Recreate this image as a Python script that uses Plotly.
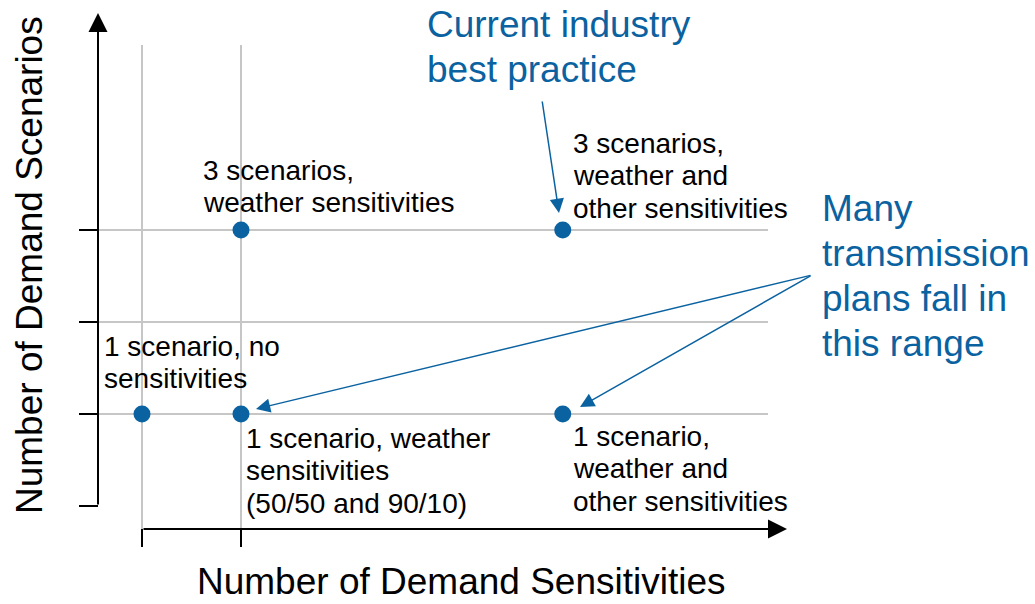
import plotly.graph_objects as go

# ---------------- data ----------------
sens_ticks = [1, 2]            # demand-sensitivity levels marked on the x axis
scen_ticks = [0, 1, 2, 3]      # demand-scenario levels marked on the y axis
scen_grid = [1, 2, 3]
point_sens = [1, 2, 5.25, 2, 5.25]
point_scen = [1, 1, 1, 3, 3]

label_lines = [
    ["1 scenario, no", "sensitivities"],
    ["1 scenario, weather", "sensitivities", "(50/50 and 90/10)"],
    ["1 scenario,", "weather and", "other sensitivities"],
    ["3 scenarios,", "weather sensitivities"],
    ["3 scenarios,", "weather and", "other sensitivities"],
]
callout_best = ["Current industry", "best practice"]
callout_many = ["Many", "transmission", "plans fall in", "this range"]
x_title = "Number of Demand Sensitivities"
y_title = "Number of Demand Scenarios"

# ---------------- layout helpers ----------------
W, H = 1035, 604
BLUE = "#0b62a0"
GRID = "#c6c6c6"
FONT = "Liberation Sans, Arial, sans-serif"


def px2x(p):
    return 1 + (p - 142) / 99.0


def py2y(q):
    return (506 - q) / 92.0


AXIS_X = px2x(98)       # position of the vertical axis
AXIS_Y = py2y(529)      # position of the horizontal axis

fig = go.Figure()

shapes = []
for y in scen_grid:
    shapes.append(dict(type="line", x0=AXIS_X, x1=px2x(768), y0=y, y1=y,
                       line=dict(color=GRID, width=2), layer="below"))
for x in sens_ticks:
    shapes.append(dict(type="line", x0=x, x1=x, y0=AXIS_Y, y1=py2y(45),
                       line=dict(color=GRID, width=2), layer="below"))
    shapes.append(dict(type="line", x0=x, x1=x, y0=AXIS_Y, y1=py2y(547),
                       line=dict(color="black", width=2)))
for y in scen_ticks:
    shapes.append(dict(type="line", x0=px2x(79), x1=AXIS_X, y0=y, y1=y,
                       line=dict(color="black", width=2)))

fig.add_trace(go.Scatter(x=point_sens, y=point_scen, mode="markers",
                         marker=dict(size=17, color=BLUE), hoverinfo="skip",
                         showlegend=False))

ann = []
# axis arrows
ann.append(dict(x=AXIS_X, y=py2y(13), ax=AXIS_X, ay=scen_ticks[0], xref="x", yref="y",
                axref="x", ayref="y", text="", showarrow=True, arrowhead=2,
                arrowsize=1.9, arrowwidth=2, arrowcolor="black"))
ann.append(dict(x=px2x(787), y=AXIS_Y, ax=sens_ticks[0], ay=AXIS_Y, xref="x", yref="y",
                axref="x", ayref="y", text="", showarrow=True, arrowhead=2,
                arrowsize=1.9, arrowwidth=2, arrowcolor="black"))


def add_lines(lines, left_px, first_px, step, size, color):
    for i, t in enumerate(lines):
        ann.append(dict(x=px2x(left_px), y=py2y(first_px + i * step), xref="x", yref="y",
                        text=t, showarrow=False, xanchor="left", yanchor="middle",
                        font=dict(family=FONT, size=size, color=color)))


label_pos = [(102, 346), (244, 438), (571, 436), (201, 170), (571, 143)]
for lines, (lx, ly) in zip(label_lines, label_pos):
    add_lines(lines, lx, ly, 32.5, 28, "black")

add_lines(callout_best, 425, 24, 45, 37, BLUE)
add_lines(callout_many, 820, 208, 45, 37, BLUE)

# callout arrows
blue_arrow = dict(xref="x", yref="y", axref="x", ayref="y", text="", showarrow=True,
                  arrowhead=2, arrowsize=1.9, arrowwidth=1.5, arrowcolor=BLUE)
ann.append(dict(x=px2x(559), y=py2y(213), ax=px2x(542), ay=py2y(100), **blue_arrow))
ann.append(dict(x=px2x(256), y=py2y(409), ax=px2x(812), ay=py2y(275), **blue_arrow))
ann.append(dict(x=px2x(580), y=py2y(407), ax=px2x(812), ay=py2y(275), **blue_arrow))

# axis titles
ann.append(dict(x=px2x(461), y=py2y(581), xref="x", yref="y", text=x_title,
                showarrow=False, xanchor="center", yanchor="middle", borderpad=0,
                font=dict(family=FONT, size=37, color="black")))
ann.append(dict(x=px2x(29), y=py2y(265), xref="x", yref="y", text=y_title,
                showarrow=False, xanchor="center", yanchor="middle", textangle=-90,
                font=dict(family=FONT, size=37, color="black")))

fig.update_layout(
    width=W, height=H, margin=dict(l=0, r=0, t=0, b=0),
    paper_bgcolor="white", plot_bgcolor="white",
    xaxis=dict(visible=False, range=[px2x(0), px2x(W)], fixedrange=True),
    yaxis=dict(visible=False, range=[py2y(H), py2y(0)], fixedrange=True),
    shapes=shapes, annotations=ann, showlegend=False,
)

fig.write_html("out.html", config={"displayModeBar": False})
